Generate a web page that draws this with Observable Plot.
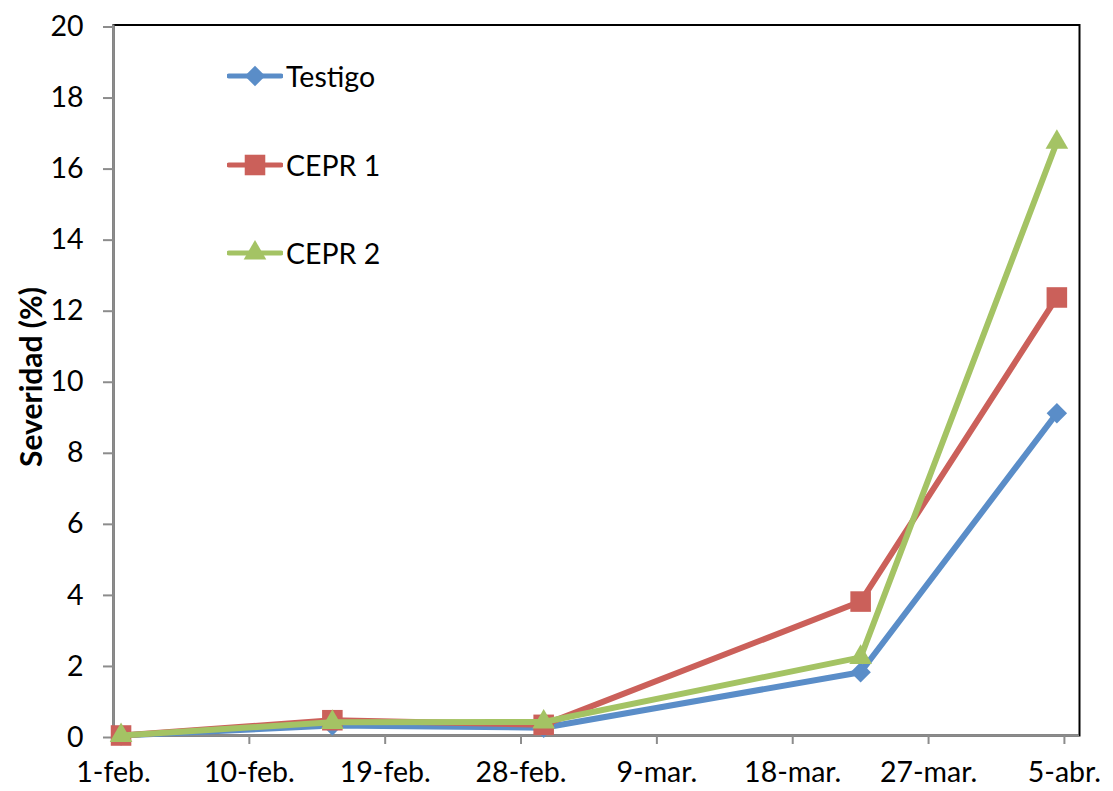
<!DOCTYPE html>
<html><head><meta charset="utf-8">
<script src="https://cdn.jsdelivr.net/npm/d3@7"></script>
<script src="https://cdn.jsdelivr.net/npm/@observablehq/plot@0.6"></script>
<style>
html,body{margin:0;padding:0;background:#fff;}
#wrap{position:relative;width:1113px;height:791px;font-family:Lato,sans-serif;overflow:hidden;}
#wrap svg.plot{position:absolute;left:0;top:0;}
#ylabel{position:absolute;left:30px;top:377px;transform:translate(-50%,-50%) rotate(-90deg);font-weight:bold;font-size:30px;white-space:nowrap;color:#000;}
.row{position:absolute;left:227px;height:30px;display:flex;align-items:center;white-space:nowrap;font-size:28.5px;color:#000;}
.row svg{display:block;margin-right:3px;}
</style></head>
<body><div id="wrap"><div id="legend"></div><div id="ylabel">Severidad (%)</div></div>
<script>
// ---- data ----
const dates = ["2013-02-01", "2013-02-15", "2013-03-01", "2013-03-22", "2013-04-04"];
const seriesNames = ["Testigo", "CEPR 1", "CEPR 2"];
const testigo = [0, 0.28, 0.22, 1.78, 9.07];
const cepr1   = [0, 0.43, 0.30, 3.77, 12.33];
const cepr2   = [0, 0.37, 0.38, 2.20, 16.70];
const yTicks = [0, 2, 4, 6, 8, 10, 12, 14, 16, 18, 20];
const xTickDates = ["2013-02-01", "2013-02-10", "2013-02-19", "2013-02-28", "2013-03-09", "2013-03-18", "2013-03-27", "2013-04-05"];
const xTickLabels = ["1-feb.", "10-feb.", "19-feb.", "28-feb.", "9-mar.", "18-mar.", "27-mar.", "5-abr."];
const xDomain = ["2013-02-01", "2013-04-06"];

// ---- styles ----
const colors = ["#5A8DC8", "#CB605A", "#A4C364"];
const symbols = ["diamond2", "square", "triangle"];
const radii = [9.2, 11.6, 8.4];

const values = [testigo, cepr1, cepr2];
// Excel date axis places each day's point in the middle of its day slot
const rows = seriesNames.flatMap((s, k) => dates.map((d, i) => ({
  series: s, date: d3.utcHour.offset(new Date(d), 12), value: values[k][i]
})));
const labelMap = new Map(xTickDates.map((d, i) => [+new Date(d), xTickLabels[i]]));

const marks = [
  Plot.frame({stroke: "#000", strokeWidth: 2}),
  Plot.ruleY([0], {stroke: "#8c8c8c", strokeWidth: 2}),
  Plot.ruleX([new Date(xDomain[0])], {stroke: "#8c8c8c", strokeWidth: 2}),
  Plot.axisY({ticks: yTicks, tickSize: 10, tickPadding: 20, stroke: "#8c8c8c", strokeWidth: 2, fill: "#000", label: null, dy: 2}),
  Plot.axisX({ticks: xTickDates.map(d => new Date(d)), tickFormat: d => labelMap.get(+d), tickSize: 9, tickPadding: 17, stroke: "#8c8c8c", strokeWidth: 2, fill: "#000", label: null})
];
seriesNames.forEach((s, k) => {
  const data = rows.filter(r => r.series === s);
  marks.push(Plot.line(data, {x: "date", y: "value", stroke: colors[k], strokeWidth: 6, strokeLinejoin: "round"}));
  marks.push(Plot.dot(data, {x: "date", y: "value", symbol: () => symbols[k], r: radii[k], fill: colors[k], stroke: "none"}));
});

const chart = Plot.plot({
  width: 1113, height: 791,
  marginLeft: 113, marginRight: 34, marginTop: 24.5, marginBottom: 56,
  style: {fontFamily: "Lato, sans-serif", fontSize: "28.5px", background: "transparent", overflow: "visible"},
  x: {type: "utc", domain: xDomain.map(d => new Date(d))},
  y: {domain: [0, 20]},
  symbol: {type: "identity"},
  marks
});
chart.classList.add("plot");
document.getElementById("wrap").prepend(chart);

// ---- legend ----
const legendY = [76, 165, 253];
const legend = document.getElementById("legend");
const d3Sym = {diamond2: d3.symbolDiamond2, square: d3.symbolSquare, triangle: d3.symbolTriangle};
seriesNames.forEach((s, k) => {
  const row = document.createElement("div");
  row.className = "row";
  row.style.top = (legendY[k] - 15) + "px";
  const svg = d3.create("svg").attr("width", 56).attr("height", 30);
  svg.append("line").attr("x1", 2).attr("x2", 54).attr("y1", 15).attr("y2", 15)
    .attr("stroke", colors[k]).attr("stroke-width", 5).attr("stroke-linecap", "round");
  svg.append("path").attr("transform", "translate(28,15)")
    .attr("d", d3.symbol(d3Sym[symbols[k]], Math.PI * radii[k] * radii[k])())
    .attr("fill", colors[k]);
  row.appendChild(svg.node());
  const t = document.createElement("span");
  t.textContent = s;
  row.appendChild(t);
  legend.appendChild(row);
});
</script></body></html>
